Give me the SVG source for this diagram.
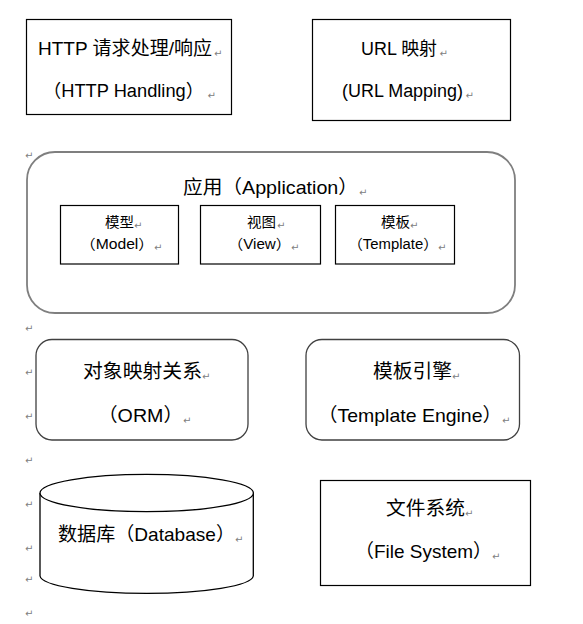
<svg xmlns="http://www.w3.org/2000/svg" width="583" height="624" viewBox="0 0 583 624">
<style>
.t{font-family:"Liberation Sans","Noto Sans CJK SC",sans-serif;fill:#000;}
.l{font-size:19px;}
.m{font-size:18px;}
.s{font-size:14px;}
.pm{font-family:"DejaVu Sans",sans-serif;font-size:10px;fill:#808080;}
.box{fill:#fff;stroke:#000;stroke-width:1.2;}
.rbox{fill:#fff;stroke:#404040;stroke-width:1.3;}
.app{fill:#fff;stroke:#7f7f7f;stroke-width:1.8;}
</style>
<rect width="583" height="624" fill="#fff"/>
<g id="connectors"></g>
<g id="margin-marks">
<text class="pm" x="25" y="159">↵</text>
<text class="pm" x="25" y="332">↵</text>
<text class="pm" x="25" y="376">↵</text>
<text class="pm" x="25" y="420">↵</text>
<text class="pm" x="25" y="464">↵</text>
<text class="pm" x="25" y="508">↵</text>
<text class="pm" x="25" y="552">↵</text>
<text class="pm" x="25" y="583">↵</text>
<text class="pm" x="25" y="617">↵</text>
</g>
<g id="http">
<rect class="box" x="26.5" y="19.5" width="205" height="95"/>
<text class="t l" x="38" y="55" textLength="174" lengthAdjust="spacingAndGlyphs">HTTP 请求处理/响应</text>
<text class="pm" x="214" y="57">↵</text>
<text class="t m" x="43" y="97" textLength="161" lengthAdjust="spacingAndGlyphs">（HTTP Handling）</text>
<text class="pm" x="207.5" y="99">↵</text>
</g>
<g id="url">
<rect class="box" x="312.5" y="19.5" width="198" height="101"/>
<text class="t m" x="361" y="55" textLength="76" lengthAdjust="spacingAndGlyphs">URL 映射</text>
<text class="pm" x="439.5" y="57">↵</text>
<text class="t m" x="342" y="97" textLength="121" lengthAdjust="spacingAndGlyphs">(URL Mapping)</text>
<text class="pm" x="465.5" y="99">↵</text>
</g>
<g id="application">
<rect class="app" x="27" y="152" width="488" height="161" rx="28" ry="28"/>
<text class="t l" x="183" y="194" textLength="175" lengthAdjust="spacingAndGlyphs">应用（Application）</text>
<text class="pm" x="359" y="196">↵</text>
</g>
<g id="model">
<rect class="box" x="60.5" y="205.5" width="118" height="58.5"/>
<text class="t s" x="105" y="227" textLength="29" lengthAdjust="spacingAndGlyphs">模型</text>
<text class="pm" x="134" y="229">↵</text>
<text class="t s" x="80" y="249" textLength="74" lengthAdjust="spacingAndGlyphs">（Model）</text>
<text class="pm" x="154" y="251">↵</text>
</g>
<g id="view">
<rect class="box" x="200.5" y="205.5" width="120" height="58.5"/>
<text class="t s" x="247" y="227" textLength="29" lengthAdjust="spacingAndGlyphs">视图</text>
<text class="pm" x="277" y="229">↵</text>
<text class="t s" x="228" y="249" textLength="63" lengthAdjust="spacingAndGlyphs">（View）</text>
<text class="pm" x="291" y="251">↵</text>
</g>
<g id="template">
<rect class="box" x="335.5" y="205.5" width="119" height="58.5"/>
<text class="t s" x="381" y="227" textLength="29" lengthAdjust="spacingAndGlyphs">模板</text>
<text class="pm" x="410" y="229">↵</text>
<text class="t s" x="348" y="249" textLength="90" lengthAdjust="spacingAndGlyphs">（Template）</text>
<text class="pm" x="438" y="251">↵</text>
</g>
<g id="orm">
<rect class="rbox" x="36" y="339.5" width="212" height="100.5" rx="16" ry="16"/>
<text class="t l" x="83" y="378" textLength="119" lengthAdjust="spacingAndGlyphs">对象映射关系</text>
<text class="pm" x="202" y="380">↵</text>
<text class="t l" x="98" y="422" textLength="85" lengthAdjust="spacingAndGlyphs">（ORM）</text>
<text class="pm" x="183" y="424">↵</text>
</g>
<g id="template-engine">
<rect class="rbox" x="306" y="339.5" width="213.5" height="100.5" rx="16" ry="16"/>
<text class="t l" x="373" y="378" textLength="79" lengthAdjust="spacingAndGlyphs">模板引擎</text>
<text class="pm" x="452" y="380">↵</text>
<text class="t l" x="318" y="422" textLength="184" lengthAdjust="spacingAndGlyphs">（Template Engine）</text>
<text class="pm" x="502" y="424">↵</text>
</g>
<g id="database">
<path d="M40,493 L40,576 A106.7,18 0 0 0 253.3,576 L253.3,493" fill="#fff" stroke="#000" stroke-width="1.3"/>
<ellipse cx="146.7" cy="493" rx="106.7" ry="18.7" fill="#fff" stroke="#000" stroke-width="1.3"/>
<text class="t l" x="58" y="541" textLength="177" lengthAdjust="spacingAndGlyphs">数据库（Database）</text>
<text class="pm" x="235" y="543">↵</text>
</g>
<g id="filesystem">
<rect class="box" x="320.5" y="480.5" width="210" height="105"/>
<text class="t l" x="386" y="515" textLength="79" lengthAdjust="spacingAndGlyphs">文件系统</text>
<text class="pm" x="465" y="517">↵</text>
<text class="t l" x="355" y="558" textLength="137" lengthAdjust="spacingAndGlyphs">（File System）</text>
<text class="pm" x="492" y="560">↵</text>
</g>
</svg>
